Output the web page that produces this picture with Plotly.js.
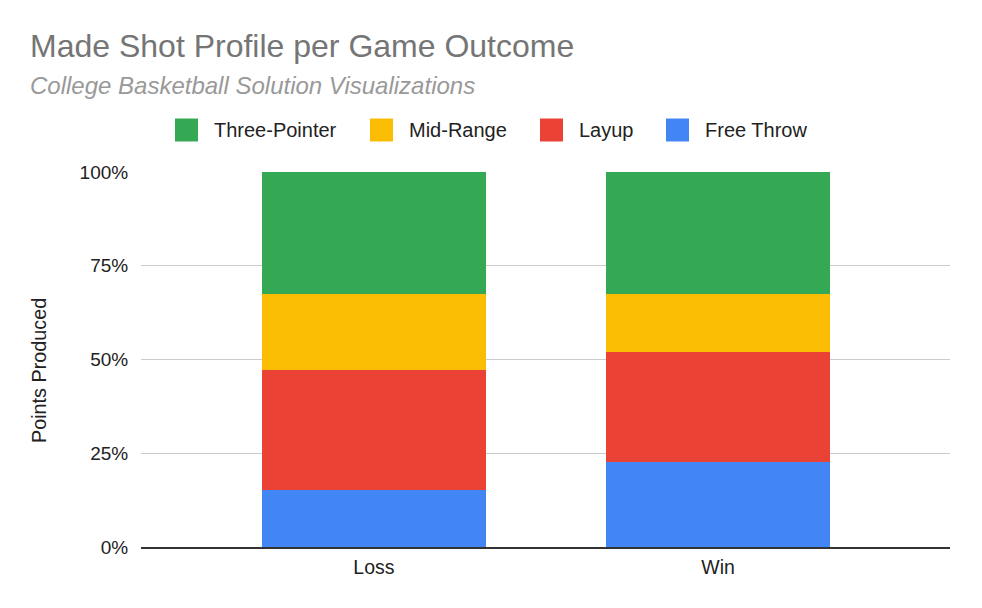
<!DOCTYPE html>
<html>
<head>
<meta charset="utf-8">
<script src="https://cdn.plot.ly/plotly-3.0.1.min.js"></script>
<style>html,body{margin:0;padding:0;background:#fff;}#chart{width:982px;height:608px;}</style>
</head>
<body>
<div id="chart"></div>
<script>
const categories = ["Loss", "Win"];
const freeThrow = [15.2, 22.7];
const layup = [32.0, 29.3];
const midRange = [20.3, 15.5];
const threePointer = [32.5, 32.5];
const seriesNames = ["Free Throw", "Layup", "Mid-Range", "Three-Pointer"];
const seriesColors = ["#4285f4", "#ea4335", "#fbbc04", "#34a853"];
const tickVals = [0, 25, 50, 75, 100];
const tickText = ["0%", "25%", "50%", "75%", "100%"];
const titleText = "Made Shot Profile per Game Outcome";
const subtitleText = "College Basketball Solution Visualizations";
const yTitleText = "Points Produced";

const W = 982, H = 608;
const M = {l: 141, r: 32, t: 172, b: 61};
const PW = W - M.l - M.r, PH = H - M.t - M.b;
const px = x => (x - M.l) / PW;
const py = y => (H - M.b - y) / PH;

const series = [freeThrow, layup, midRange, threePointer];
const traces = series.map((vals, i) => ({
  type: "bar",
  name: seriesNames[i],
  x: categories,
  y: vals,
  marker: {color: seriesColors[i], line: {width: 0}},
  hoverinfo: "x+y+name"
}));

const FONT = "Arial, 'Liberation Sans', sans-serif";
const TXT = "#222222";

// custom legend (order: Three-Pointer, Mid-Range, Layup, Free Throw)
const legendOrder = [3, 2, 1, 0];
const legendSymbolX = [175, 370, 540, 666];
const legendY = 130;
const shapes = [];
const annotations = [];
legendOrder.forEach((si, k) => {
  const x0 = legendSymbolX[k];
  shapes.push({
    type: "rect", xref: "paper", yref: "paper",
    x0: px(x0), x1: px(x0 + 23), y0: py(legendY + 11.5), y1: py(legendY - 11.5),
    fillcolor: seriesColors[si], line: {width: 0}
  });
  annotations.push({
    xref: "paper", yref: "paper", x: px(x0 + 37), y: py(legendY),
    xanchor: "left", yanchor: "middle", showarrow: false,
    text: seriesNames[si], font: {family: FONT, size: 20, color: TXT}
  });
});
annotations.push({
  xref: "paper", yref: "paper", x: px(28), y: py(46),
  xanchor: "left", yanchor: "middle", showarrow: false,
  text: titleText, font: {family: FONT, size: 32, color: "#757575"}
});
annotations.push({
  xref: "paper", yref: "paper", x: px(28), y: py(86),
  xanchor: "left", yanchor: "middle", showarrow: false,
  text: "<i>" + subtitleText + "</i>", font: {family: FONT, size: 24, color: "#999999"}
});
annotations.push({
  xref: "paper", yref: "paper", x: px(39), y: py(371),
  xanchor: "center", yanchor: "middle", showarrow: false, textangle: -90,
  text: yTitleText, font: {family: FONT, size: 19.8, color: TXT}
});

const layout = {
  width: W, height: H,
  barmode: "stack",
  bargap: 0.349,
  margin: M,
  paper_bgcolor: "#fff", plot_bgcolor: "#fff",
  font: {family: FONT, color: TXT},
  showlegend: false,
  shapes: shapes,
  annotations: annotations,
  xaxis: {
    type: "category",
    range: [-0.677, 1.674],
    tickfont: {family: FONT, size: 19.5, color: TXT},
    showline: true, linecolor: "#333", linewidth: 2,
    ticks: "outside", ticklen: 2, tickcolor: "rgba(0,0,0,0)",
    showgrid: false, fixedrange: true
  },
  yaxis: {
    range: [0, 100],
    tickvals: tickVals, ticktext: tickText,
    tickfont: {family: FONT, size: 19, color: TXT},
    gridcolor: "#cccccc", gridwidth: 1.3,
    zeroline: false,
    ticks: "outside", ticklen: 8, tickcolor: "rgba(0,0,0,0)"
  }
};

Plotly.newPlot("chart", traces, layout, {displayModeBar: false, staticPlot: true});
</script>
</body>
</html>
